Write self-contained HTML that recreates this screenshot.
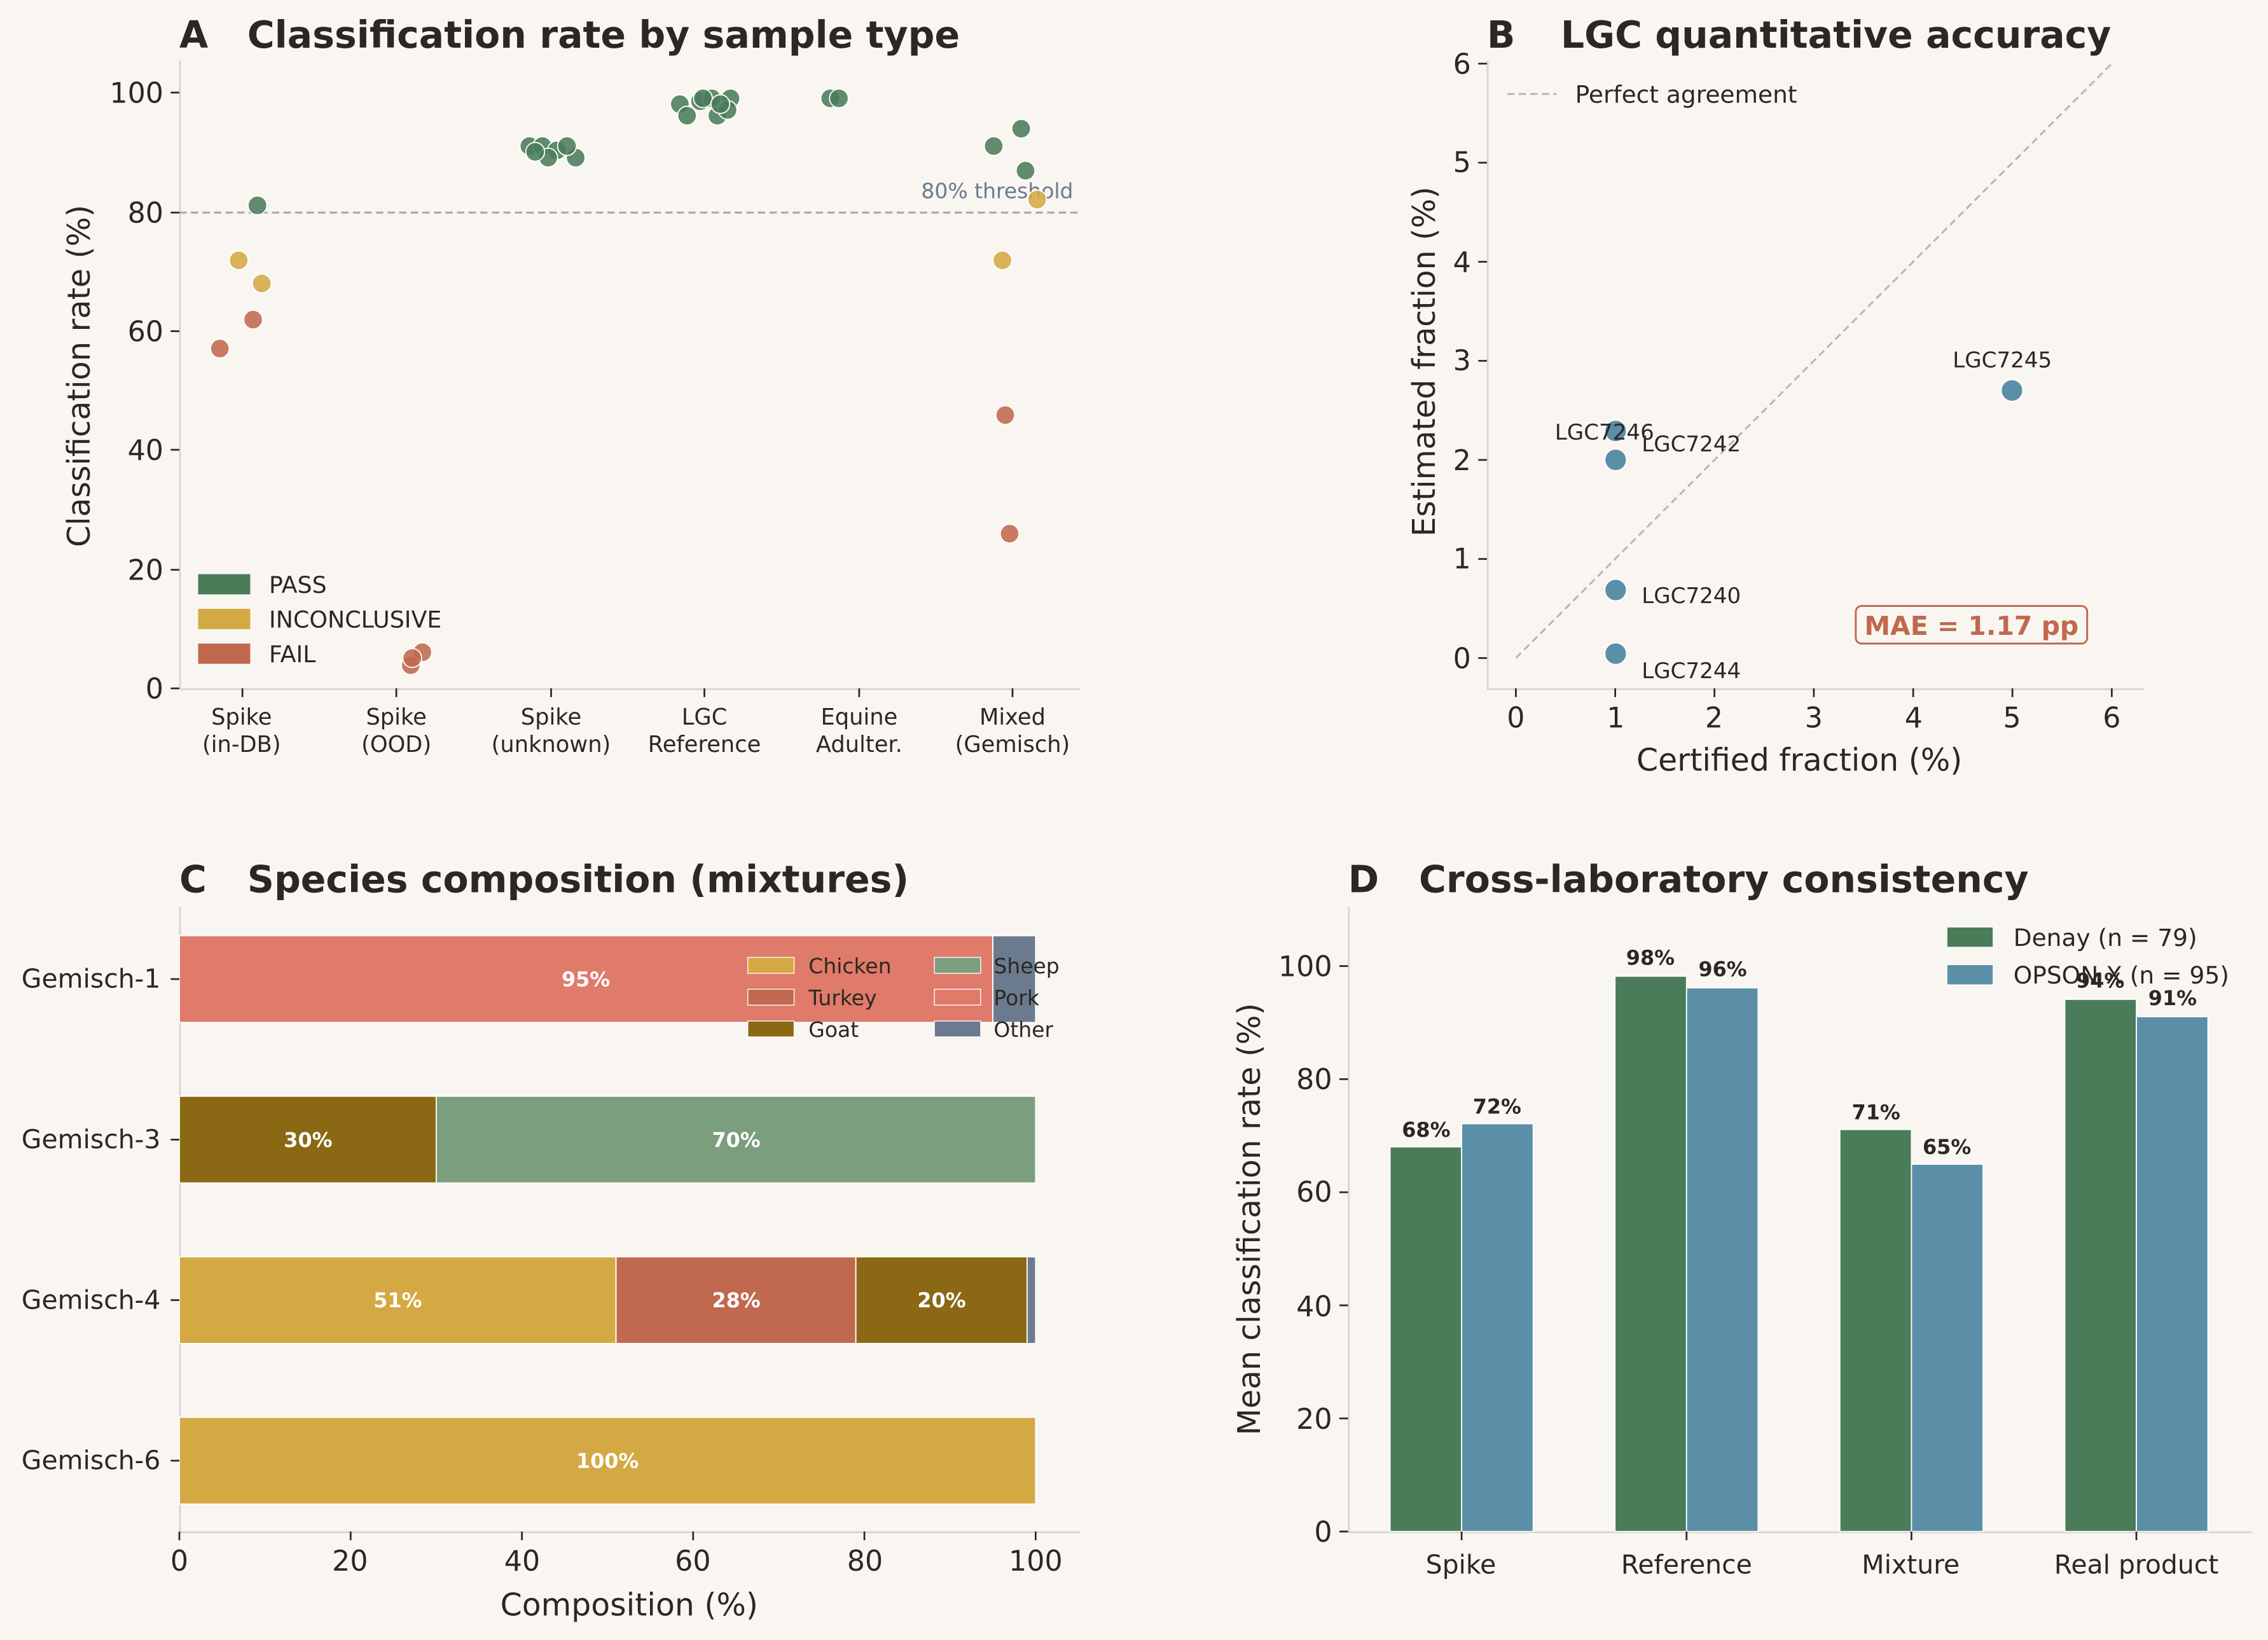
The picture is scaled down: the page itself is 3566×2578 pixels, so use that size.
<!DOCTYPE html>
<html><head><meta charset="utf-8"><style>html,body{margin:0;padding:0;background:#f9f6f1}svg{display:block}</style></head><body>
<svg width="3566" height="2578" viewBox="0 0 1568 1134" preserveAspectRatio="none" xmlns="http://www.w3.org/2000/svg" font-family="'DejaVu Sans','Liberation Sans',sans-serif" fill="#2b2722">
<rect width="1568" height="1134" fill="#f9f6f1"/>
<!-- Panel A -->
<text x="124" y="33" font-size="25.7" font-weight="bold">A</text><text x="171" y="33" font-size="25.7" font-weight="bold">Classification rate by sample type</text>
<g stroke="#d9d5cf" stroke-width="1.3"><line x1="124.5" y1="42" x2="124.5" y2="476"/><line x1="124" y1="476.5" x2="747" y2="476.5"/></g>
<g stroke="#2b2722" stroke-width="1.2">
<line x1="118" y1="476" x2="124" y2="476"/><line x1="118" y1="394" x2="124" y2="394"/><line x1="118" y1="311" x2="124" y2="311"/><line x1="118" y1="229" x2="124" y2="229"/><line x1="118" y1="147" x2="124" y2="147"/><line x1="118" y1="64" x2="124" y2="64"/>
<line x1="167.6" y1="476" x2="167.6" y2="482"/><line x1="274" y1="476" x2="274" y2="482"/><line x1="381" y1="476" x2="381" y2="482"/><line x1="487" y1="476" x2="487" y2="482"/><line x1="594" y1="476" x2="594" y2="482"/><line x1="700" y1="476" x2="700" y2="482"/>
</g>
<g font-size="19.5" text-anchor="end"><text x="113" y="483">0</text><text x="113" y="401">20</text><text x="113" y="318">40</text><text x="113" y="236">60</text><text x="113" y="154">80</text><text x="113" y="71">100</text></g>
<g font-size="15.5" text-anchor="middle"><text x="167" y="501">Spike</text><text x="167" y="520">(in-DB)</text><text x="274" y="501">Spike</text><text x="274" y="520">(OOD)</text><text x="381" y="501">Spike</text><text x="381" y="520">(unknown)</text><text x="487" y="501">LGC</text><text x="487" y="520">Reference</text><text x="594" y="501">Equine</text><text x="594" y="520">Adulter.</text><text x="700" y="501">Mixed</text><text x="700" y="520">(Gemisch)</text></g>
<text transform="translate(62,260) rotate(-90)" font-size="21.5" text-anchor="middle">Classification rate (%)</text>
<line x1="124" y1="147" x2="747" y2="147" stroke="#a3a9b0" stroke-width="1.4" stroke-dasharray="5,3"/>
<text x="742" y="137" font-size="14.5" fill="#6b7a8f" text-anchor="end">80% threshold</text>
<g stroke="#fff" stroke-width="0.8" fill-opacity="0.88">
<g fill="#4a7c59"><circle cx="178" cy="142" r="6.5"/><circle cx="366" cy="101" r="6.5"/><circle cx="375" cy="101" r="6.5"/><circle cx="385" cy="104" r="6.5"/><circle cx="379" cy="109" r="6.5"/><circle cx="398" cy="109" r="6.5"/><circle cx="370" cy="105" r="6.5"/><circle cx="392" cy="101" r="6.5"/>
<circle cx="470" cy="72" r="6.5"/><circle cx="484" cy="70" r="6.5"/><circle cx="492" cy="68" r="6.5"/><circle cx="505" cy="68" r="6.5"/><circle cx="475" cy="80" r="6.5"/><circle cx="496" cy="80" r="6.5"/><circle cx="503" cy="76" r="6.5"/><circle cx="486" cy="68" r="6.5"/><circle cx="498" cy="72" r="6.5"/>
<circle cx="574" cy="68" r="6.5"/><circle cx="580" cy="68" r="6.5"/><circle cx="687" cy="101" r="6.5"/><circle cx="706" cy="89" r="6.5"/><circle cx="709" cy="118" r="6.5"/></g>
<g fill="#d4a843"><circle cx="165" cy="180" r="6.5"/><circle cx="181" cy="196" r="6.5"/><circle cx="693" cy="180" r="6.5"/><circle cx="717" cy="138" r="6.5"/></g>
<g fill="#c0694e"><circle cx="175" cy="221" r="6.5"/><circle cx="152" cy="241" r="6.5"/><circle cx="292" cy="451" r="6.5"/><circle cx="284" cy="460" r="6.5"/><circle cx="285" cy="455" r="6.5"/><circle cx="695" cy="287" r="6.5"/><circle cx="698" cy="369" r="6.5"/></g>
</g>
<rect x="137" y="397" width="36" height="14" fill="#4a7c59"/><text x="186" y="410" font-size="16">PASS</text>
<rect x="137" y="421" width="36" height="14" fill="#d4a843"/><text x="186" y="434" font-size="16">INCONCLUSIVE</text>
<rect x="137" y="445" width="36" height="14" fill="#c0694e"/><text x="186" y="458" font-size="16">FAIL</text>

<!-- Panel B -->
<text x="1028" y="33" font-size="25.7" font-weight="bold">B</text><text x="1079" y="33" font-size="25.7" font-weight="bold">LGC quantitative accuracy</text>
<g stroke="#d9d5cf" stroke-width="1.3"><line x1="1028.5" y1="42" x2="1028.5" y2="476"/><line x1="1028" y1="476.5" x2="1482" y2="476.5"/></g>
<g stroke="#2b2722" stroke-width="1.2">
<line x1="1022" y1="455" x2="1028" y2="455"/><line x1="1022" y1="386.5" x2="1028" y2="386.5"/><line x1="1022" y1="318" x2="1028" y2="318"/><line x1="1022" y1="249.5" x2="1028" y2="249.5"/><line x1="1022" y1="181" x2="1028" y2="181"/><line x1="1022" y1="112.5" x2="1028" y2="112.5"/><line x1="1022" y1="44" x2="1028" y2="44"/>
<line x1="1048" y1="476" x2="1048" y2="482"/><line x1="1116.7" y1="476" x2="1116.7" y2="482"/><line x1="1185.3" y1="476" x2="1185.3" y2="482"/><line x1="1254" y1="476" x2="1254" y2="482"/><line x1="1322.7" y1="476" x2="1322.7" y2="482"/><line x1="1391.3" y1="476" x2="1391.3" y2="482"/><line x1="1460" y1="476" x2="1460" y2="482"/>
</g>
<g font-size="19.5" text-anchor="end"><text x="1017" y="462">0</text><text x="1017" y="393">1</text><text x="1017" y="325">2</text><text x="1017" y="256">3</text><text x="1017" y="188">4</text><text x="1017" y="119">5</text><text x="1017" y="51">6</text></g>
<g font-size="19.5" text-anchor="middle"><text x="1048" y="503">0</text><text x="1117" y="503">1</text><text x="1185" y="503">2</text><text x="1254" y="503">3</text><text x="1323" y="503">4</text><text x="1391" y="503">5</text><text x="1460" y="503">6</text></g>
<text x="1244" y="533" font-size="21.5" text-anchor="middle">Certified fraction (%)</text>
<text transform="translate(992,250) rotate(-90)" font-size="21.5" text-anchor="middle">Estimated fraction (%)</text>
<line x1="1048" y1="455" x2="1460" y2="44" stroke="#b5b5b5" stroke-width="1.3" stroke-dasharray="5,3"/>
<line x1="1042" y1="65" x2="1076" y2="65" stroke="#b5b5b5" stroke-width="1.3" stroke-dasharray="5,3"/>
<text x="1089" y="71" font-size="16.5">Perfect agreement</text>
<g fill="#5b8fa8" stroke="#fff" stroke-width="0.8"><circle cx="1117" cy="298" r="7.5"/><circle cx="1117" cy="318" r="7.5"/><circle cx="1117" cy="408" r="7.5"/><circle cx="1117" cy="452" r="7.5"/><circle cx="1391" cy="270" r="7.5"/></g>
<g font-size="15"><text x="1075" y="304">LGC7246</text><text x="1135" y="312">LGC7242</text><text x="1135" y="417">LGC7240</text><text x="1135" y="469">LGC7244</text><text x="1350" y="254">LGC7245</text></g>
<rect x="1283" y="419" width="160" height="26" rx="4" fill="#f9f6f1" stroke="#c0694e" stroke-width="1.3"/>
<text x="1363" y="439" font-size="18" font-weight="bold" fill="#c0694e" text-anchor="middle">MAE = 1.17 pp</text>

<!-- Panel C -->
<text x="124" y="617" font-size="25.7" font-weight="bold">C</text><text x="171" y="617" font-size="25.7" font-weight="bold">Species composition (mixtures)</text>
<g stroke="#d9d5cf" stroke-width="1.3"><line x1="124.5" y1="627" x2="124.5" y2="1059"/><line x1="124" y1="1059.5" x2="747" y2="1059.5"/></g>
<g stroke="#fff" stroke-width="0.8">
<rect x="124" y="647" width="562.4" height="60" fill="#e07a6a"/><rect x="686.4" y="647" width="29.6" height="60" fill="#6b7a8f"/>
<rect x="124" y="758" width="177.6" height="60" fill="#8b6914"/><rect x="301.6" y="758" width="414.4" height="60" fill="#7a9e7e"/>
<rect x="124" y="869" width="301.9" height="60" fill="#d4a843"/><rect x="425.9" y="869" width="165.8" height="60" fill="#c0694e"/><rect x="591.7" y="869" width="118.4" height="60" fill="#8b6914"/><rect x="710.1" y="869" width="5.9" height="60" fill="#6b7a8f"/>
<rect x="124" y="980" width="592" height="60" fill="#d4a843"/>
</g>
<g font-size="14" font-weight="bold" fill="#fff" text-anchor="middle"><text x="405" y="682">95%</text><text x="213" y="793">30%</text><text x="509" y="793">70%</text><text x="275" y="904">51%</text><text x="509" y="904">28%</text><text x="651" y="904">20%</text><text x="420" y="1015">100%</text></g>
<g stroke="#2b2722" stroke-width="1.2">
<line x1="118" y1="677" x2="124" y2="677"/><line x1="118" y1="788" x2="124" y2="788"/><line x1="118" y1="899" x2="124" y2="899"/><line x1="118" y1="1010" x2="124" y2="1010"/>
<line x1="124" y1="1059" x2="124" y2="1065"/><line x1="242.4" y1="1059" x2="242.4" y2="1065"/><line x1="360.8" y1="1059" x2="360.8" y2="1065"/><line x1="479.2" y1="1059" x2="479.2" y2="1065"/><line x1="597.6" y1="1059" x2="597.6" y2="1065"/><line x1="716" y1="1059" x2="716" y2="1065"/>
</g>
<g font-size="18" text-anchor="end"><text x="111" y="683">Gemisch-1</text><text x="111" y="794">Gemisch-3</text><text x="111" y="905">Gemisch-4</text><text x="111" y="1016">Gemisch-6</text></g>
<g font-size="19.5" text-anchor="middle"><text x="124" y="1086">0</text><text x="242" y="1086">20</text><text x="361" y="1086">40</text><text x="479" y="1086">60</text><text x="598" y="1086">80</text><text x="716" y="1086">100</text></g>
<text x="435" y="1117" font-size="21.5" text-anchor="middle">Composition (%)</text>
<g stroke="#fff" stroke-width="0.6">
<rect x="517" y="662" width="32" height="11" fill="#d4a843"/><rect x="517" y="684" width="32" height="11" fill="#c0694e"/><rect x="517" y="706" width="32" height="11" fill="#8b6914"/>
<rect x="646" y="662" width="32" height="11" fill="#7a9e7e"/><rect x="646" y="684" width="32" height="11" fill="#e07a6a"/><rect x="646" y="706" width="32" height="11" fill="#6b7a8f"/>
</g>
<g font-size="14.5"><text x="559" y="673">Chicken</text><text x="559" y="695">Turkey</text><text x="559" y="717">Goat</text><text x="687" y="673">Sheep</text><text x="687" y="695">Pork</text><text x="687" y="717">Other</text></g>

<!-- Panel D -->
<text x="932" y="617" font-size="25.7" font-weight="bold">D</text><text x="981" y="617" font-size="25.7" font-weight="bold">Cross-laboratory consistency</text>
<g stroke="#d9d5cf" stroke-width="1.3"><line x1="932.5" y1="627" x2="932.5" y2="1059"/><line x1="932" y1="1059.5" x2="1557" y2="1059.5"/></g>
<g stroke="#fff" stroke-width="0.8">
<rect x="961" y="793" width="49.5" height="266" fill="#4a7c59"/><rect x="1010.5" y="777" width="49.5" height="282" fill="#5b8fa8"/>
<rect x="1116.5" y="675" width="49.5" height="384" fill="#4a7c59"/><rect x="1166" y="683" width="49.5" height="376" fill="#5b8fa8"/>
<rect x="1272" y="781" width="49.5" height="278" fill="#4a7c59"/><rect x="1321.5" y="805" width="49.5" height="254" fill="#5b8fa8"/>
<rect x="1427.5" y="691" width="49.5" height="368" fill="#4a7c59"/><rect x="1477" y="703" width="49.5" height="356" fill="#5b8fa8"/>
</g>
<rect x="1346" y="641" width="32" height="14" fill="#4a7c59" stroke="#fff" stroke-width="0.6"/><text x="1392" y="654" font-size="16.5">Denay (n = 79)</text>
<rect x="1346" y="667" width="32" height="14" fill="#5b8fa8" stroke="#fff" stroke-width="0.6"/><text x="1392" y="680" font-size="16.5">OPSON X (n = 95)</text>
<g font-size="14" font-weight="bold" text-anchor="middle"><text x="986" y="786">68%</text><text x="1035" y="770">72%</text><text x="1141" y="667">98%</text><text x="1191" y="675">96%</text><text x="1297" y="774">71%</text><text x="1346" y="798">65%</text><text x="1452" y="683">94%</text><text x="1502" y="695">91%</text></g>
<g stroke="#2b2722" stroke-width="1.2">
<line x1="926" y1="1059" x2="932" y2="1059"/><line x1="926" y1="980.8" x2="932" y2="980.8"/><line x1="926" y1="902.6" x2="932" y2="902.6"/><line x1="926" y1="824.4" x2="932" y2="824.4"/><line x1="926" y1="746.2" x2="932" y2="746.2"/><line x1="926" y1="668" x2="932" y2="668"/>
<line x1="1010.5" y1="1059" x2="1010.5" y2="1065"/><line x1="1166" y1="1059" x2="1166" y2="1065"/><line x1="1321.5" y1="1059" x2="1321.5" y2="1065"/><line x1="1477" y1="1059" x2="1477" y2="1065"/>
</g>
<g font-size="19.5" text-anchor="end"><text x="921" y="1066">0</text><text x="921" y="988">20</text><text x="921" y="910">40</text><text x="921" y="831">60</text><text x="921" y="753">80</text><text x="921" y="675">100</text></g>
<g font-size="18" text-anchor="middle"><text x="1010" y="1088">Spike</text><text x="1166" y="1088">Reference</text><text x="1321" y="1088">Mixture</text><text x="1477" y="1088">Real product</text></g>
<text transform="translate(871,843) rotate(-90)" font-size="21.5" text-anchor="middle">Mean classification rate (%)</text>
</svg>
</body></html>
